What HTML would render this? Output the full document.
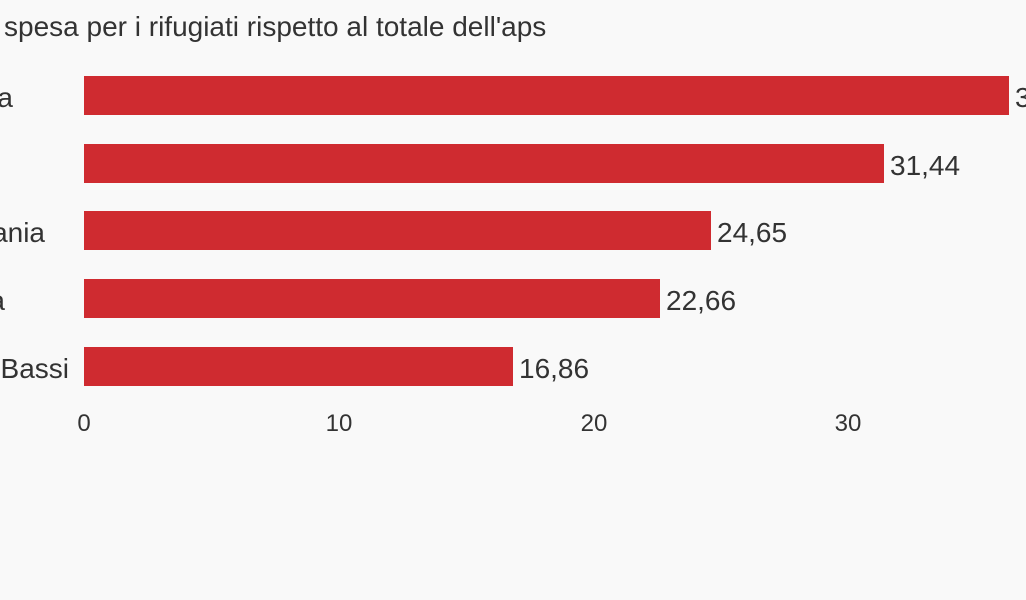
<!DOCTYPE html>
<html><head><meta charset="utf-8"><style>
html,body{margin:0;padding:0;background:#f9f9f9;}
svg{display:block;font-family:"Liberation Sans",sans-serif;}
</style></head><body>
<svg width="1026" height="600" viewBox="0 0 1026 600">
<rect width="1026" height="600" fill="#f9f9f9"/>
<text x="4" y="36" font-size="28" fill="#333">spesa per i rifugiati rispetto al totale dell'aps</text>
<g fill="#cf2b30">
<rect x="84" y="76" width="925" height="39"/>
<rect x="84" y="144" width="800" height="39"/>
<rect x="84" y="211" width="627" height="39"/>
<rect x="84" y="279" width="576" height="39"/>
<rect x="84" y="347" width="429" height="39"/>
</g>
<g font-size="28" fill="#333">
<text x="1015" y="107">36,35</text>
<text x="890" y="175">31,44</text>
<text x="717" y="242">24,65</text>
<text x="666" y="310">22,66</text>
<text x="519" y="378">16,86</text>
</g>
<g font-size="28" fill="#333" text-anchor="end">
<text x="13" y="107">Svezia</text>
<text x="45" y="242">Germania</text>
<text x="5" y="310">Austria</text>
<text x="69" y="378">Paesi Bassi</text>
</g>
<g font-size="24" fill="#333" text-anchor="middle">
<text x="84" y="431">0</text>
<text x="339" y="431">10</text>
<text x="594" y="431">20</text>
<text x="848" y="431">30</text>
</g>
</svg>
</body></html>
